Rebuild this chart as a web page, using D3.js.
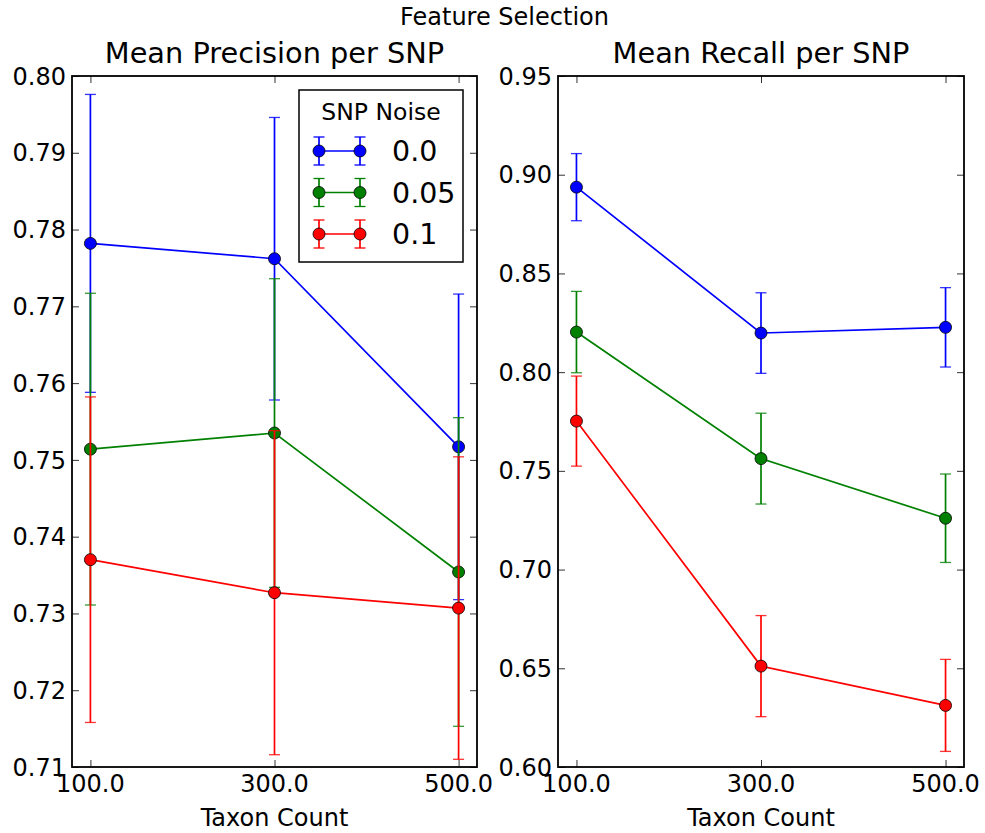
<!DOCTYPE html>
<html>
<head>
<meta charset="utf-8">
<script src="https://d3js.org/d3.v7.min.js"></script>
<style>
  body { margin: 0; background: #fff; }
  text { font-family: "DejaVu Sans", sans-serif; fill: #000; }
</style>
</head>
<body>
<script>
// data
const taxonCounts = [100, 300, 500];
const noiseLevels = ['0.0', '0.05', '0.1'];
const noiseColors = ['#0000ff', '#008000', '#ff0000'];

const precisionMeans = [
  [0.7782, 0.7762, 0.7517],
  [0.7514, 0.7535, 0.7354],
  [0.7370, 0.7327, 0.7307]
];
const precisionErrs = [
  [0.0194, 0.0184, 0.0199],
  [0.0203, 0.0201, 0.0201],
  [0.0212, 0.0211, 0.0197]
];
const recallMeans = [
  [0.8937, 0.8198, 0.8227],
  [0.8203, 0.7562, 0.7260],
  [0.7752, 0.6511, 0.6312]
];
const recallErrs = [
  [0.0170, 0.0204, 0.0201],
  [0.0206, 0.0230, 0.0224],
  [0.0228, 0.0256, 0.0233]
];
const precisionTicks = [0.71, 0.72, 0.73, 0.74, 0.75, 0.76, 0.77, 0.78, 0.79, 0.80];
const recallTicks = [0.60, 0.65, 0.70, 0.75, 0.80, 0.85, 0.90, 0.95];

const width = 985, height = 833;
const svg = d3.select('body').append('svg').attr('width', width).attr('height', height);

svg.append('text').attr('x', width / 2 + 12).attr('y', 25)
  .attr('text-anchor', 'middle').style('font-size', '24px').text('Feature Selection');

const panels = [
  {title: 'Mean Precision per SNP', means: precisionMeans, errs: precisionErrs,
   ticks: precisionTicks, left: 72, right: 477, legend: true},
  {title: 'Mean Recall per SNP', means: recallMeans, errs: recallErrs,
   ticks: recallTicks, left: 558, right: 964, legend: false}
];
const plotTop = 76, plotBottom = 767;
const tickLen = 7;

panels.forEach(p => {
  const x = d3.scaleLinear().domain([80, 520]).range([p.left, p.right]);
  const y = d3.scaleLinear().domain(d3.extent(p.ticks)).range([plotBottom, plotTop]);
  const g = svg.append('g');

  // inward ticks on all four sides
  const yl = g.append('g').attr('transform', `translate(${p.left},0)`)
    .call(d3.axisRight(y).tickValues(p.ticks).tickSize(tickLen).tickFormat(''));
  const yr = g.append('g').attr('transform', `translate(${p.right},0)`)
    .call(d3.axisLeft(y).tickValues(p.ticks).tickSize(tickLen).tickFormat(''));
  const xb = g.append('g').attr('transform', `translate(0,${plotBottom})`)
    .call(d3.axisTop(x).tickValues(taxonCounts).tickSize(tickLen).tickFormat(''));
  const xt = g.append('g').attr('transform', `translate(0,${plotTop})`)
    .call(d3.axisBottom(x).tickValues(taxonCounts).tickSize(tickLen).tickFormat(''));
  [yl, yr, xb, xt].forEach(a => {
    a.select('.domain').remove();
    a.selectAll('line').attr('stroke', '#333').attr('stroke-width', 1);
  });

  // tick labels
  g.selectAll('.ylab').data(p.ticks).join('text')
    .attr('x', p.left - 6).attr('y', d => y(d)).attr('dy', '0.36em')
    .attr('text-anchor', 'end').style('font-size', '24px')
    .text(d => d3.format('.2f')(d));
  g.selectAll('.xlab').data(taxonCounts).join('text')
    .attr('x', d => x(d)).attr('y', plotBottom + 25)
    .attr('text-anchor', 'middle').style('font-size', '24px')
    .text(d => d3.format('.1f')(d));
  g.append('text').attr('x', (p.left + p.right) / 2).attr('y', 826)
    .attr('text-anchor', 'middle').style('font-size', '24px').text('Taxon Count');
  g.append('text').attr('x', (p.left + p.right) / 2).attr('y', 63)
    .attr('text-anchor', 'middle').style('font-size', '28.8px').text(p.title);

  // series
  const line = d3.line().x((d, i) => x(taxonCounts[i])).y(d => y(d));
  p.means.forEach((m, s) => {
    const c = noiseColors[s];
    const sg = g.append('g');
    const pts = m.map((v, i) => ({x: taxonCounts[i], v, e: p.errs[s][i]}));
    sg.selectAll('.bar').data(pts).join('line')
      .attr('x1', d => x(d.x)).attr('x2', d => x(d.x))
      .attr('y1', d => y(d.v - d.e)).attr('y2', d => y(d.v + d.e))
      .attr('stroke', c).attr('stroke-width', 1.7);
    sg.selectAll('.cap').data(pts.flatMap(d => [d.v - d.e, d.v + d.e].map(v => ({x: d.x, v})))).join('line')
      .attr('x1', d => x(d.x) - 5.5).attr('x2', d => x(d.x) + 5.5)
      .attr('y1', d => y(d.v)).attr('y2', d => y(d.v))
      .attr('stroke', c).attr('stroke-width', 1.3).attr('stroke-opacity', 0.8);
    sg.append('path').attr('d', line(m)).attr('fill', 'none')
      .attr('stroke', c).attr('stroke-width', 1.7);
    sg.selectAll('circle').data(pts).join('circle')
      .attr('cx', d => x(d.x)).attr('cy', d => y(d.v)).attr('r', 6)
      .attr('fill', c).attr('stroke', '#000').attr('stroke-width', 0.8);
  });

  // frame
  g.append('rect').attr('x', p.left).attr('y', plotTop)
    .attr('width', p.right - p.left).attr('height', plotBottom - plotTop)
    .attr('fill', 'none').attr('stroke', '#000').attr('stroke-width', 1.8);

  if (p.legend) {
    const lg = g.append('g').attr('transform', 'translate(299,90)');
    lg.append('rect').attr('width', 164).attr('height', 172)
      .attr('fill', '#fff').attr('stroke', '#000').attr('stroke-width', 1.5);
    lg.append('text').attr('x', 82).attr('y', 30).attr('text-anchor', 'middle')
      .style('font-size', '23.5px').text('SNP Noise');
    noiseLevels.forEach((lab, s) => {
      const c = noiseColors[s];
      const ry = 61 + s * 41.5;
      const row = lg.append('g').attr('transform', `translate(0,${ry})`);
      row.append('line').attr('x1', 20).attr('x2', 61).attr('stroke', c).attr('stroke-width', 1.7);
      [20, 61].forEach(cx => {
        row.append('line').attr('x1', cx).attr('x2', cx).attr('y1', -14).attr('y2', 14)
          .attr('stroke', c).attr('stroke-width', 1.7);
        [-14, 14].forEach(cy => row.append('line').attr('x1', cx - 5.5).attr('x2', cx + 5.5)
          .attr('y1', cy).attr('y2', cy).attr('stroke', c).attr('stroke-width', 1.3));
        row.append('circle').attr('cx', cx).attr('r', 6)
          .attr('fill', c).attr('stroke', '#000').attr('stroke-width', 0.8);
      });
      row.append('text').attr('x', 93).attr('dy', '0.36em')
        .style('font-size', '28.5px').text(lab);
    });
  }
});
</script>
</body>
</html>
